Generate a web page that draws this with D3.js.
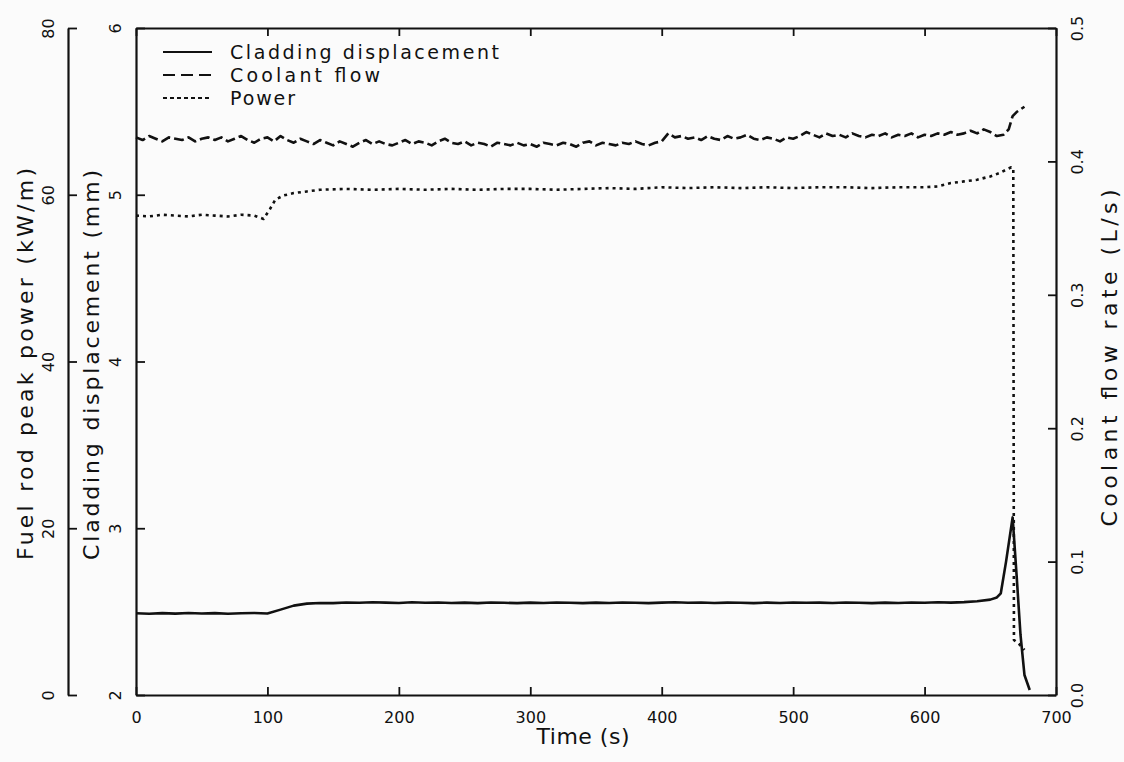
<!DOCTYPE html>
<meta charset="utf-8">
<style>
  body { margin: 0; background: #fbfbfb; }
  text { font-family: "DejaVu Sans", sans-serif; fill: #111; }
</style>
<body>

<svg width="1124" height="762"></svg>

<script src="https://d3js.org/d3.v7.min.js"></script>
<script>

// time axis ticks (s)
var timeTicks = [0, 100, 200, 300, 400, 500, 600, 700];
var dispTicks = [2, 3, 4, 5, 6];
var powerTicks = [0, 20, 40, 60, 80];
var flowTicks = [0, 0.1, 0.2, 0.3, 0.4, 0.5];

// cladding displacement (mm)
var dispTime = [0,10,20,30,40,50,60,70,80,90,100,110,120,130,140,150,160,170,180,190,
  200,210,220,230,240,250,260,270,280,290,300,310,320,330,340,350,360,370,380,390,
  400,410,420,430,440,450,460,470,480,490,500,510,520,530,540,550,560,570,580,590,
  600,610,620,630,640,650,655,658,662,667,670,673,676,680];
var dispValue = [2.490,2.487,2.491,2.488,2.492,2.489,2.491,2.487,2.490,2.492,2.489,2.512,2.536,2.548,2.552,2.551,2.555,2.553,2.556,2.554,
  2.552,2.556,2.553,2.555,2.552,2.554,2.551,2.555,2.553,2.551,2.554,2.552,2.555,2.553,2.551,2.554,2.552,2.555,2.553,2.551,
  2.554,2.556,2.553,2.555,2.552,2.554,2.553,2.551,2.554,2.552,2.555,2.553,2.554,2.552,2.555,2.553,2.551,2.554,2.552,2.555,
  2.553,2.556,2.554,2.557,2.562,2.572,2.585,2.610,2.800,3.065,2.720,2.360,2.120,2.030];

// coolant flow rate (L/s)
var flowTime = [0,5,10,15,20,25,30,35,40,45,50,55,60,65,70,75,80,85,90,95,
  100,105,110,115,120,125,130,135,140,145,150,155,160,165,170,175,180,185,190,195,
  200,205,210,215,220,225,230,235,240,245,250,255,260,265,270,275,280,285,290,295,
  300,305,310,315,320,325,330,335,340,345,350,355,360,365,370,375,380,385,390,395,
  400,405,410,415,420,425,430,435,440,445,450,455,460,465,470,475,480,485,490,495,
  500,505,510,515,520,525,530,535,540,545,550,555,560,565,570,575,580,585,590,595,
  600,605,610,615,620,625,630,635,640,645,650,655,660,664,667,670,673,676];
var flowValue = [.418,.416,.419,.417,.415,.418,.417,.416,.418,.415,.417,.418,.416,.418,.415,.417,.419,.416,.414,.417,
  .418,.415,.419,.416,.414,.417,.415,.413,.416,.414,.412,.415,.413,.411,.414,.416,.413,.415,.413,.412,
  .414,.416,.413,.415,.414,.412,.415,.417,.414,.413,.415,.412,.414,.413,.411,.414,.413,.412,.414,.412,
  .413,.411,.414,.413,.412,.414,.413,.411,.414,.415,.412,.414,.413,.412,.414,.413,.415,.413,.412,.414,
  .415,.421,.418,.419,.417,.418,.416,.419,.417,.416,.419,.417,.418,.420,.417,.416,.418,.417,.415,.418,
  .417,.419,.422,.420,.418,.421,.419,.420,.418,.421,.419,.418,.420,.419,.421,.418,.420,.419,.421,.418,
  .420,.419,.421,.420,.422,.420,.421,.423,.421,.424,.422,.419,.420,.424,.434,.437,.439,.441];

// fuel rod peak power (kW/m)
var powerTime = [0,10,20,30,40,50,60,70,80,90,97,102,106,112,120,130,140,160,180,200,
  220,240,260,280,300,320,340,360,380,400,420,440,460,480,500,520,540,560,580,600,
  610,620,630,640,650,657,662,666,667.5,668,672,676];
var powerValue = [57.5,57.4,57.6,57.5,57.4,57.6,57.5,57.4,57.6,57.5,57.1,58.3,59.4,59.9,60.2,60.4,60.6,60.7,60.6,60.7,
  60.6,60.7,60.6,60.7,60.7,60.6,60.7,60.8,60.7,60.9,60.8,60.9,60.8,60.9,60.8,60.9,60.9,60.8,60.9,60.9,
  61.0,61.4,61.6,61.8,62.2,62.6,63.0,63.3,63.2,6.6,6.1,5.4];

var legendLabels = ["Cladding displacement", "Coolant flow", "Power"];

var svg = d3.select('svg');
var ink = '#111';

svg.append('rect').attr('width', 1124).attr('height', 762).attr('fill', '#fbfbfb');

var plotLeft = 136, plotRight = 1056, plotTop = 28, plotBottom = 695;

var x = d3.scaleLinear().domain([0, 700]).range([plotLeft, plotRight]);
var yDisp = d3.scaleLinear().domain([2, 6]).range([plotBottom, plotTop]);
var yPow = d3.scaleLinear().domain([0, 80]).range([plotBottom, plotTop]);
var yFlow = d3.scaleLinear().domain([0, 0.5]).range([plotBottom, plotTop]);

function styleAxis(g) {
  g.select('.domain').attr('stroke', ink).attr('stroke-width', 2.2);
  g.selectAll('.tick line').attr('stroke', ink).attr('stroke-width', 1.8);
  g.selectAll('.tick text').attr('fill', ink).style('font-size', '16px');
}

// bottom + top
var xBottom = svg.append('g')
  .attr('transform', 'translate(0,' + plotBottom + ')')
  .call(d3.axisBottom(x).tickValues(timeTicks).tickSizeInner(-8).tickSizeOuter(0).tickFormat(d3.format('d')));
styleAxis(xBottom);
xBottom.selectAll('.tick text').attr('y', 28).attr('dy', 0);

var xTop = svg.append('g')
  .attr('transform', 'translate(0,' + plotTop + ')')
  .call(d3.axisTop(x).tickValues(timeTicks).tickSizeInner(-8).tickSizeOuter(0).tickFormat(''));
styleAxis(xTop);

// outer left axis: power
var axPow = svg.append('g')
  .attr('transform', 'translate(68,0)')
  .call(d3.axisLeft(yPow).tickValues(powerTicks).tickSizeInner(-9).tickSizeOuter(0).tickFormat(d3.format('d')));
styleAxis(axPow);
axPow.selectAll('.tick text')
  .attr('x', null).attr('dy', null)
  .attr('text-anchor', 'middle')
  .attr('transform', 'translate(-14,0) rotate(-90)');

// inner left axis: displacement
var axDisp = svg.append('g')
  .attr('transform', 'translate(' + plotLeft + ',0)')
  .call(d3.axisLeft(yDisp).tickValues(dispTicks).tickSizeInner(-9).tickSizeOuter(0).tickFormat(d3.format('d')));
styleAxis(axDisp);
axDisp.selectAll('.tick text')
  .attr('x', null).attr('dy', null)
  .attr('text-anchor', 'middle')
  .attr('transform', 'translate(-15,0) rotate(-90)');

// right axis: coolant flow
var axFlow = svg.append('g')
  .attr('transform', 'translate(' + plotRight + ',0)')
  .call(d3.axisRight(yFlow).tickValues(flowTicks).tickSizeInner(-8).tickSizeOuter(0).tickFormat(d3.format('.1f')));
styleAxis(axFlow);
axFlow.selectAll('.tick text')
  .attr('x', null).attr('dy', null)
  .attr('text-anchor', 'middle')
  .attr('transform', 'translate(27,0) rotate(-90)');

// axis titles
function title(txt, tx, ty, rot, len) {
  svg.append('text')
    .attr('transform', 'translate(' + tx + ',' + ty + ') rotate(' + rot + ')')
    .attr('text-anchor', 'middle')
    .attr('textLength', len)
    .attr('lengthAdjust', 'spacing')
    .style('font-size', '22px')
    .text(txt);
}
title('Time (s)', 583, 744, 0, 93);
title('Fuel rod peak power (kW/m)', 33, 364, -90, 392);
title('Cladding displacement (mm)', 99, 365, -90, 390);
title('Coolant flow rate (L/s)', 1117, 358, -90, 337);

// series
var plot = svg.append('g');

function drawSeries(ts, vs, yScale, dash) {
  var line = d3.line()
    .x(function(d) { return x(d[0]); })
    .y(function(d) { return yScale(d[1]); });
  plot.append('path')
    .datum(d3.zip(ts, vs))
    .attr('d', line)
    .attr('fill', 'none')
    .attr('stroke', ink)
    .attr('stroke-width', 2.6)
    .attr('stroke-linejoin', 'round')
    .attr('stroke-dasharray', dash);
}

drawSeries(dispTime, dispValue, yDisp, null);
drawSeries(flowTime, flowValue, yFlow, '10,4');
drawSeries(powerTime, powerValue, yPow, '3,4');

// legend
var dashes = [null, '12,6', '4,3'];
var legend = svg.append('g');
legendLabels.forEach(function(lbl, i) {
  var cy = 52 + i * 23;
  legend.append('line')
    .attr('x1', 163).attr('x2', 212)
    .attr('y1', cy).attr('y2', cy)
    .attr('stroke', ink).attr('stroke-width', 2.2)
    .attr('stroke-dasharray', dashes[i]);
  legend.append('text')
    .attr('x', 230).attr('y', cy + 7)
    .style('font-size', '19px')
    .attr('textLength', [269, 150, 65][i])
    .attr('lengthAdjust', 'spacing')
    .text(lbl);
});

</script>
